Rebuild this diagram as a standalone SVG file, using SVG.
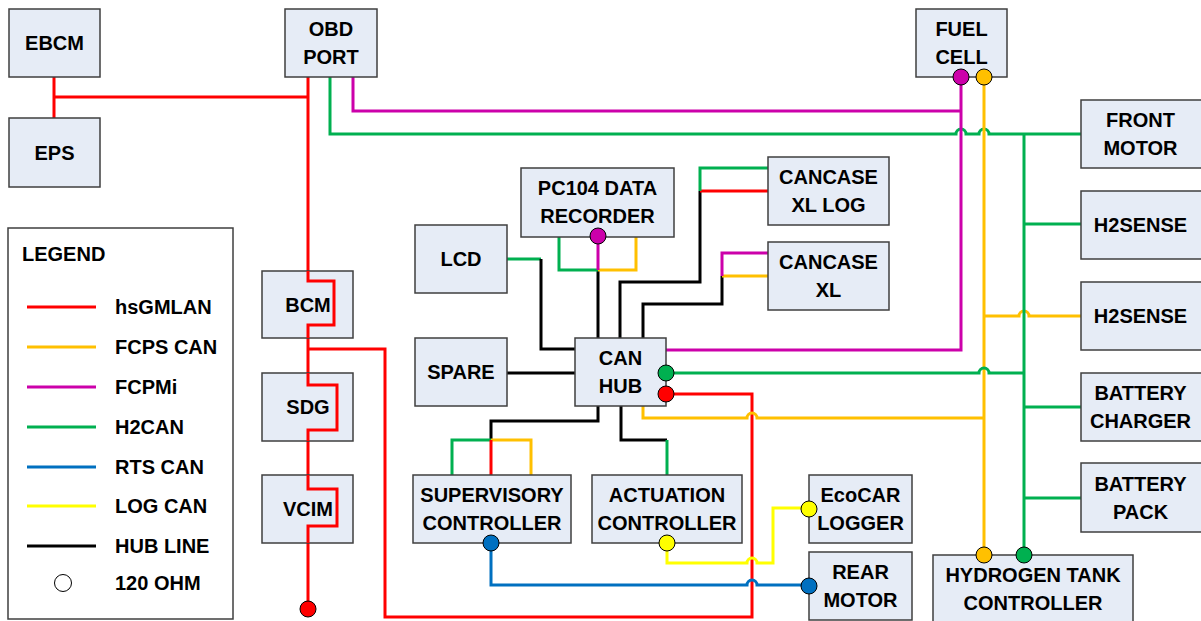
<svg xmlns="http://www.w3.org/2000/svg" width="1201" height="621" viewBox="0 0 1201 621">
<style>
.box{fill:#E6ECF6;stroke:#3F3F3F;stroke-width:1.5}
.t{font-family:"Liberation Sans",Arial,sans-serif;font-weight:bold;font-size:20px;fill:#000;text-anchor:middle}
.tl{font-family:"Liberation Sans",Arial,sans-serif;font-weight:bold;font-size:20px;fill:#000}
.w{fill:none;stroke-width:3;stroke-linejoin:miter}
.red{stroke:#FF0000}.org{stroke:#FFC000}.mag{stroke:#CC00AA}.grn{stroke:#00B050}.blu{stroke:#0070C0}.yel{stroke:#FFFF00}.blk{stroke:#000}
.dot{stroke:#000;stroke-width:1}
</style>
<g id="connectors">
<!-- hsGMLAN -->
<path class="w red" d="M54,77 V118 M54,97 H308 M308,77 V281 H334 V325 H308 V385 H337 V430 H308 V489 H337 V526 H308 V609"/>
<path class="w red" d="M308,349 H385 V617 H752 V394 H666"/>
<!-- OBD green / magenta -->
<path class="w grn" d="M330,77 V134 H956 a5,5 0 0 1 10,0 H979 a5,5 0 0 1 10,0 H1081"/>
<path class="w mag" d="M353,77 V111 H961"/>
<path class="w mag" d="M961,77 V350 H666"/>
<!-- fuel cell orange -->
<path class="w org" d="M984,77 V555"/>
<path class="w org" d="M984,316 H1019 a5,5 0 0 1 10,0 H1081"/>
<!-- green bus -->
<path class="w grn" d="M1024,134 V555 M1024,224 H1081 M1024,407 H1081 M1024,498 H1081"/>
<path class="w grn" d="M666,373 H979 a5,5 0 0 1 10,0 H1024"/>
<!-- hub orange -->
<path class="w org" d="M643,406 V418 H747 a5,5 0 0 1 10,0 H984"/>
<!-- LCD / SPARE -->
<path class="w grn" d="M507,259 H541"/>
<path class="w blk" d="M541,259 V349 H575 M507,373 H575"/>
<!-- PC104 -->
<path class="w blk" d="M598,270 V338"/>
<path class="w grn" d="M559,237 V270 H598"/>
<path class="w org" d="M636,237 V270 H598"/>
<path class="w mag" d="M598,244 V270"/>
<!-- CANCASE XL LOG -->
<path class="w blk" d="M620,338 V282 H700 V191"/>
<path class="w red" d="M700,191 H768"/>
<path class="w grn" d="M700,191 V168 H768"/>
<!-- CANCASE XL -->
<path class="w blk" d="M643,338 V304 H722 V276"/>
<path class="w org" d="M722,276 H768"/>
<path class="w mag" d="M722,276 V253 H768"/>
<!-- supervisory -->
<path class="w blk" d="M598,406 V421 H491 V440"/>
<path class="w grn" d="M491,440 H452 V475"/>
<path class="w org" d="M491,440 H531 V475"/>
<path class="w red" d="M491,440 V475"/>
<!-- actuation -->
<path class="w blk" d="M621,406 V440 H667"/>
<path class="w grn" d="M667,440 V475"/>
<!-- LOG CAN / RTS CAN -->
<path class="w yel" d="M667,543 V563 H747 a5,5 0 0 1 10,0 H773 V508 H809"/>
<path class="w blu" d="M491,543 V585 H747 a5,5 0 0 1 10,0 H809"/>
</g>
<g id="EBCM"><rect class="box" x="9" y="9" width="91" height="68"/><text class="t" x="54.5" y="50">EBCM</text></g>
<g id="EPS"><rect class="box" x="9" y="118" width="91" height="69"/><text class="t" x="54.5" y="160">EPS</text></g>
<g id="OBD"><rect class="box" x="285" y="9" width="92" height="68"/><text class="t" x="331" y="36">OBD</text><text class="t" x="331" y="64">PORT</text></g>
<g id="FUELCELL"><rect class="box" x="916" y="9" width="91" height="68"/><text class="t" x="961.5" y="36">FUEL</text><text class="t" x="961.5" y="64">CELL</text></g>
<g id="FRONTMOTOR"><rect class="box" x="1081" y="100" width="130" height="68"/><text class="t" x="1140.5" y="127">FRONT</text><text class="t" x="1140.5" y="155">MOTOR</text></g>
<g id="H2SENSE1"><rect class="box" x="1081" y="191" width="130" height="68"/><text class="t" x="1140.5" y="232">H2SENSE</text></g>
<g id="H2SENSE2"><rect class="box" x="1081" y="282" width="130" height="68"/><text class="t" x="1140.5" y="323">H2SENSE</text></g>
<g id="BATTERYCHARGER"><rect class="box" x="1081" y="373" width="130" height="68"/><text class="t" x="1140.5" y="400">BATTERY</text><text class="t" x="1140.5" y="428">CHARGER</text></g>
<g id="BATTERYPACK"><rect class="box" x="1081" y="463" width="130" height="69"/><text class="t" x="1140.5" y="491">BATTERY</text><text class="t" x="1140.5" y="519">PACK</text></g>
<g id="HTC"><rect class="box" x="933" y="555" width="200" height="80"/><text class="t" x="1033" y="582">HYDROGEN TANK</text><text class="t" x="1033" y="610">CONTROLLER</text></g>
<g id="ECOCAR"><rect class="box" x="809" y="475" width="103" height="68"/><text class="t" x="860.5" y="502">EcoCAR</text><text class="t" x="860.5" y="530">LOGGER</text></g>
<g id="REARMOTOR"><rect class="box" x="809" y="552" width="103" height="68"/><text class="t" x="860.5" y="579">REAR</text><text class="t" x="860.5" y="607">MOTOR</text></g>
<g id="CANCASEXLLOG"><rect class="box" x="768" y="157" width="121" height="68"/><text class="t" x="828.5" y="184">CANCASE</text><text class="t" x="828.5" y="212">XL LOG</text></g>
<g id="CANCASEXL"><rect class="box" x="768" y="242" width="121" height="68"/><text class="t" x="828.5" y="269">CANCASE</text><text class="t" x="828.5" y="297">XL</text></g>
<g id="PC104"><rect class="box" x="521" y="168" width="153" height="69"/><text class="t" x="597.5" y="195">PC104 DATA</text><text class="t" x="597.5" y="223">RECORDER</text></g>
<g id="LCD"><rect class="box" x="415" y="225" width="92" height="68"/><text class="t" x="461" y="266">LCD</text></g>
<g id="SPARE"><rect class="box" x="415" y="338" width="92" height="68"/><text class="t" x="461" y="379">SPARE</text></g>
<g id="CANHUB"><rect class="box" x="575" y="338" width="91" height="68"/><text class="t" x="620.5" y="365">CAN</text><text class="t" x="620.5" y="393">HUB</text></g>
<g id="SUPERVISORY"><rect class="box" x="413" y="475" width="158" height="68"/><text class="t" x="492" y="502">SUPERVISORY</text><text class="t" x="492" y="530">CONTROLLER</text></g>
<g id="ACTUATION"><rect class="box" x="592" y="475" width="150" height="68"/><text class="t" x="667" y="502">ACTUATION</text><text class="t" x="667" y="530">CONTROLLER</text></g>
<g id="BCM"><rect class="box" x="262" y="271" width="91" height="67"/><text class="t" x="308" y="312">BCM</text></g>
<g id="SDG"><rect class="box" x="262" y="373" width="91" height="68"/><text class="t" x="308" y="414">SDG</text></g>
<g id="VCIM"><rect class="box" x="262" y="475" width="91" height="68"/><text class="t" x="308" y="516">VCIM</text></g>
<!-- red lines redrawn over BCM/SDG/VCIM boxes -->
<g id="bus-overlay">
<path class="w red" d="M308,271 V281 H334 V325 H308 V338 M308,373 V385 H337 V430 H308 V441 M308,475 V489 H337 V526 H308 V543"/>
</g>
<g id="terminations">
<circle class="dot" cx="961" cy="77" r="8" fill="#CC00AA"/>
<circle class="dot" cx="984" cy="77" r="8" fill="#FFC000"/>
<circle class="dot" cx="598" cy="236" r="8" fill="#CC00AA"/>
<circle class="dot" cx="666" cy="373" r="8" fill="#00B050"/>
<circle class="dot" cx="666" cy="394" r="8" fill="#FF0000"/>
<circle class="dot" cx="491" cy="543" r="8" fill="#0070C0"/>
<circle class="dot" cx="667" cy="543" r="8" fill="#FFFF00"/>
<circle class="dot" cx="809" cy="509" r="8" fill="#FFFF00"/>
<circle class="dot" cx="809" cy="586" r="8" fill="#0070C0"/>
<circle class="dot" cx="984" cy="555" r="8" fill="#FFC000"/>
<circle class="dot" cx="1024" cy="555" r="8" fill="#00B050"/>
<circle class="dot" cx="308" cy="609" r="8" fill="#FF0000"/>
</g>
<g id="legend">
<rect x="8" y="228" width="225" height="391" fill="#fff" stroke="#3F3F3F" stroke-width="1.5"/>
<text class="tl" x="22" y="261">LEGEND</text>
<path class="w red" d="M27,307 H96"/><text class="tl" x="115" y="314">hsGMLAN</text>
<path class="w org" d="M27,347 H96"/><text class="tl" x="115" y="354">FCPS CAN</text>
<path class="w mag" d="M27,387 H96"/><text class="tl" x="115" y="394">FCPMi</text>
<path class="w grn" d="M27,427 H96"/><text class="tl" x="115" y="434">H2CAN</text>
<path class="w blu" d="M27,467 H96"/><text class="tl" x="115" y="474">RTS CAN</text>
<path class="w yel" d="M27,506 H96"/><text class="tl" x="115" y="513">LOG CAN</text>
<path class="w blk" d="M27,546 H96"/><text class="tl" x="115" y="553">HUB LINE</text>
<circle cx="63" cy="583" r="8.5" fill="#fff" stroke="#000" stroke-width="1"/><text class="tl" x="115" y="590">120 OHM</text>
</g>
</svg>
